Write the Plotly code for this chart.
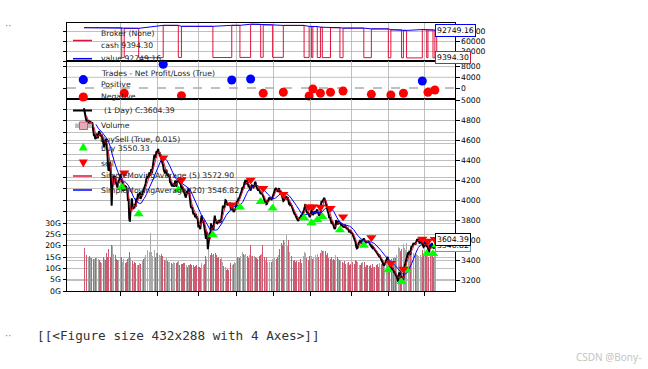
import plotly.graph_objects as go
import pandas as pd

# ---------------- data (daily bars) ----------------
close_2022_01 = [4918, 4873, 4820, 4818, 4791, 4785, 4726, 4801, 4777, 4756, 4790, 4772, 4750, 4779, 4741, 4700, 4640, 4655, 4610]
close_2022_02 = [4620, 4653, 4664, 4617, 4652, 4688, 4671, 4652, 4635, 4655, 4602, 4597, 4560, 4531, 4598, 4581]
close_2022_03 = [4614, 4526, 4497, 4374, 4293, 4302, 4379, 4355, 4176, 3942, 4115, 4239, 4245, 4213, 4242, 4194, 4169, 4160, 4125, 4166, 4180, 4204, 4222]
close_2022_04 = [4262, 4231, 4180, 4192, 4090, 4127, 4095, 4143, 4140, 4133, 4108, 4087, 3990, 4010, 3815, 3784, 3897, 3922, 4016]
close_2022_05 = [3975, 3908, 3928, 3916, 3962, 3930, 4013, 4006, 4020, 4063, 4017, 4062, 4077, 4010, 4028, 4033, 4067, 4092, 4091]
close_2022_06 = [4129, 4146, 4163, 4207, 4219, 4239, 4218, 4238, 4275, 4242, 4296, 4309, 4266, 4309, 4375, 4390, 4453, 4438, 4421, 4480, 4485]
close_2022_07 = [4476, 4511, 4460, 4478, 4440, 4452, 4410, 4392, 4376, 4341, 4298, 4285, 4267, 4290, 4302, 4267, 4238, 4260, 4231, 4245, 4170]
close_2022_08 = [4180, 4150, 4143, 4152, 4155, 4134, 4150, 4191, 4185, 4130, 4192, 4179, 4197, 4206, 4183, 4167, 4152, 4104, 4134, 4124, 4108, 4091, 4078]
close_2022_09 = [4043, 4024, 4066, 4091, 4063, 4116, 4098, 3996, 3985, 3932, 3918, 3932, 3903, 3856, 3869, 3855, 3827, 3861, 3817, 3823, 3804]
close_2022_10 = [3727, 3747, 3726, 3707, 3794, 3845, 3806, 3775, 3796, 3743, 3736, 3631, 3612, 3683, 3642, 3508]
close_2022_11 = [3579, 3651, 3675, 3633, 3767, 3728, 3745, 3721, 3700, 3788, 3845, 3793, 3804, 3770, 3766, 3780, 3770, 3800, 3790, 3775, 3788, 3853]
close_2022_12 = [3870, 3945, 3923, 3925, 3956, 3998, 3994, 3964, 3954, 3958, 3955, 3960, 3965, 3930, 3900, 3915, 3920, 3905, 3880, 3890, 3900, 3915]
close_2023_01 = [3940, 3990, 3980, 4003, 4021, 4014, 4049, 4059, 4073, 4109, 4124, 4127, 4125, 4170, 4181, 4201, 4156]
close_2023_02 = [4200, 4181, 4143, 4126, 4143, 4120, 4093, 4130, 4147, 4144, 4120, 4135, 4140, 4180, 4173, 4136, 4120, 4098, 4095, 4113]
close_2023_03 = [4090, 4080, 4060, 4075, 4070, 4055, 4040, 4020, 4000, 3973, 3986, 3958, 3962, 3991, 3990, 4015, 4024, 4005, 4021, 4000, 4010, 4030, 4050]
close_2023_04 = [4075, 4090, 4110, 4115, 4105, 4100, 4082, 4110, 4117, 4095, 4076, 4090, 4065, 4060, 4010, 3990, 3995, 4005, 4029]
close_2023_05 = [4020, 4040, 4005, 4028, 3995, 3965, 3970, 3950, 3955, 3945, 3920, 3905, 3880, 3872, 3860, 3855, 3835, 3820, 3798, 3798]
close_2023_06 = [3790, 3825, 3830, 3820, 3840, 3835, 3850, 3858, 3890, 3905, 3930, 3960, 3900, 3885, 3870, 3880, 3855, 3845, 3828, 3842]
close_2023_07 = [3880, 3905, 3870, 3850, 3865, 3885, 3860, 3880, 3875, 3890, 3905, 3880, 3860, 3840, 3865, 3845, 3960, 3990, 3980, 3995, 4014]
close_2023_08 = [4020, 4005, 3975, 3940, 3915, 3900, 3880, 3860, 3820, 3830, 3795, 3775, 3760, 3785, 3750, 3745, 3720, 3710, 3735, 3800, 3775, 3755, 3765]
close_2023_09 = [3790, 3780, 3760, 3770, 3750, 3755, 3745, 3730, 3740, 3725, 3750, 3735, 3715, 3710, 3725, 3705, 3690, 3675, 3700, 3690]
close_2023_10 = [3665, 3680, 3660, 3645, 3620, 3610, 3590, 3575, 3530, 3515, 3520, 3560, 3570, 3580, 3590, 3580, 3573]
close_2023_11 = [3590, 3600, 3605, 3615, 3600, 3590, 3575, 3570, 3585, 3575, 3590, 3580, 3560, 3555, 3545, 3535, 3540, 3520, 3525, 3510, 3505, 3496]
close_2023_12 = [3490, 3480, 3470, 3460, 3450, 3440, 3445, 3430, 3420, 3400, 3390, 3380, 3370, 3345, 3355, 3370, 3385, 3400, 3415, 3431]
close_2024_01 = [3386, 3365, 3352, 3340, 3329, 3310, 3302, 3320, 3290, 3275, 3285, 3260, 3240, 3250, 3228, 3195, 3200, 3265, 3275, 3255, 3245, 3225]
close_2024_02 = [3208, 3190, 3205, 3330, 3345, 3365, 3395, 3410, 3430, 3465, 3475, 3450, 3490, 3450, 3516]
close_2024_03 = [3540, 3530, 3555, 3570, 3555, 3570, 3555, 3580, 3600, 3610, 3595, 3600, 3580, 3565, 3585, 3600, 3605, 3560, 3545, 3530, 3537]
close_2024_04 = [3586, 3570, 3568, 3530, 3545, 3520, 3505, 3475, 3555, 3515, 3540, 3570, 3548, 3530, 3515, 3525, 3535, 3590, 3610, 3604.39]

# volume in billions (G)
vol_2022_01 = [18.2, 19.1, 17.5, 16.8, 15.9, 14.8, 16.2, 15.1, 14.3, 15.6, 14.9, 13.8, 14.7, 16.1, 15.3, 14.2, 15.8, 13.9, 14.6]
vol_2022_02 = [13.5, 14.8, 13.2, 12.9, 14.1, 15.3, 13.6, 12.8, 13.9, 12.4, 13.7, 14.5, 15.2, 13.1, 14.3, 13.8]
vol_2022_03 = [15.6, 16.8, 15.2, 17.9, 18.6, 16.3, 15.8, 14.9, 17.2, 20.4, 19.8, 18.1, 16.5, 15.3, 14.6, 15.9, 13.8, 14.2, 13.5, 12.9, 13.7, 14.4, 13.1]
vol_2022_04 = [14.8, 13.9, 15.2, 12.8, 13.6, 14.1, 12.9, 13.3, 12.4, 13.8, 12.6, 14.2, 15.9, 14.7, 17.4, 16.8, 15.1, 14.3, 15.6]
vol_2022_05 = [13.2, 12.4, 11.8, 12.6, 11.9, 12.3, 13.1, 12.2, 11.6, 12.8, 11.4, 12.5, 12.9, 12.1, 11.7, 12.6, 13.4, 12.8, 13.9]
vol_2022_06 = [15.2, 16.4, 15.8, 17.1, 16.3, 18.2, 15.6, 16.9, 17.4, 18.8, 25.8, 17.3, 16.1, 15.4, 17.8, 16.6, 18.1, 15.9, 14.8, 16.7, 17.2]
vol_2022_07 = [16.8, 17.5, 15.4, 15.9, 14.8, 15.6, 16.2, 14.9, 15.3, 16.1, 14.2, 13.8, 13.1, 13.6, 14.4, 12.9, 13.3, 12.8, 13.7, 12.6, 13.9]
vol_2022_08 = [13.1, 12.4, 12.8, 11.9, 12.6, 13.4, 12.2, 11.8, 12.9, 12.3, 11.6, 12.7, 13.2, 12.1, 11.5, 12.4, 12.8, 11.9, 12.3, 11.7, 12.5, 11.8, 12.2]
vol_2022_09 = [11.6, 12.1, 11.4, 11.9, 10.8, 11.5, 12.2, 11.3, 11.8, 10.9, 11.6, 11.2, 10.7, 11.4, 11.9, 10.6, 11.1, 10.8, 11.3, 10.5, 10.9]
vol_2022_10 = [10.4, 11.2, 10.6, 10.1, 11.5, 12.3, 10.9, 10.7, 11.3, 10.5, 11.8, 15.6, 16.9, 14.2, 15.1, 17.3]
vol_2022_11 = [18.9, 17.6, 16.2, 15.8, 18.4, 16.9, 15.7, 14.8, 16.3, 17.5, 19.5, 16.8, 15.2, 15.9, 14.6, 13.8, 14.9, 13.5, 12.7, 13.9, 14.4, 15.1]
vol_2022_12 = [12.8, 11.5, 10.9, 10.2, 9.8, 10.5, 9.4, 9.1, 9.8, 9.6, 9.2, 9.9, 11.6, 12.3, 11.8, 12.5, 11.4, 12.1, 11.7, 12.6, 11.3, 12.2]
vol_2023_01 = [14.2, 15.6, 14.8, 16.3, 15.1, 14.6, 16.9, 15.4, 14.9, 16.2, 17.3, 21.0, 16.5, 15.8, 14.7, 16.4, 17.1]
vol_2023_02 = [16.8, 15.3, 15.9, 14.6, 15.7, 16.2, 20.1, 15.4, 14.8, 15.6, 16.1, 14.9, 15.5, 16.7, 15.2, 14.6, 15.8, 14.3, 15.1, 14.7]
vol_2023_03 = [15.3, 14.8, 15.9, 16.4, 15.1, 20.2, 16.3, 14.7, 15.2, 14.1, 13.6, 14.8, 13.2, 12.9, 14.3, 13.7, 12.6, 13.9, 14.5, 12.8, 13.4, 14.1, 13.3]
vol_2023_04 = [13.8, 14.6, 12.9, 15.2, 14.3, 13.5, 14.9, 15.7, 16.8, 18.4, 17.6, 19.3, 21.2, 18.7, 20.5, 22.4, 19.8, 21.6, 23.1]
vol_2023_05 = [27.8, 24.6, 21.3, 19.7, 22.5, 18.4, 17.2, 15.9, 14.6, 15.3, 13.8, 14.5, 13.2, 14.9, 13.6, 12.8, 14.1, 13.4, 12.7, 13.9]
vol_2023_06 = [12.6, 13.5, 12.9, 14.2, 13.1, 12.4, 13.8, 14.6, 15.3, 16.2, 17.4, 16.8, 15.1, 14.7, 15.9, 14.3, 13.8, 14.9, 15.6, 14.2]
vol_2023_07 = [14.8, 15.6, 14.1, 16.3, 15.2, 14.7, 13.9, 15.8, 14.5, 15.1, 16.4, 15.7, 14.9, 17.2, 19.6, 16.8, 21.8, 18.3, 17.5, 16.9, 17.8]
vol_2023_08 = [18.4, 22.1, 17.6, 16.3, 15.8, 16.9, 15.2, 14.7, 16.1, 15.5, 14.3, 15.7, 14.9, 13.8, 15.4, 14.2, 13.6, 14.8, 15.9, 20.3, 16.7, 15.2, 14.4]
vol_2023_09 = [14.1, 13.5, 12.8, 13.6, 12.4, 13.2, 12.7, 11.9, 12.5, 13.1, 12.2, 11.8, 12.6, 11.4, 12.3, 11.7, 12.9, 11.5, 12.1, 11.8]
vol_2023_10 = [12.4, 11.8, 12.6, 11.3, 12.1, 11.7, 12.9, 13.6, 13.2, 12.4, 12.8, 11.9, 12.5, 11.6, 12.3, 11.4, 12.2]
vol_2023_11 = [11.8, 12.6, 12.2, 11.5, 12.9, 11.3, 10.8, 11.6, 10.9, 11.4, 12.1, 10.6, 11.2, 10.7, 11.5, 10.3, 10.9, 11.7, 10.4, 11.1, 10.6, 10.2]
vol_2023_12 = [10.8, 11.4, 10.5, 11.9, 10.7, 11.2, 12.3, 11.6, 10.9, 12.1, 11.5, 12.8, 11.3, 12.4, 11.8, 12.9, 11.6, 12.2, 13.1, 12.5]
vol_2024_01 = [12.8, 13.5, 12.4, 13.9, 12.7, 14.2, 13.3, 12.9, 14.6, 13.8, 15.1, 14.4, 16.8, 15.7, 18.2, 17.4, 19.6, 21.3, 18.8, 17.6, 19.2, 18.5]
vol_2024_02 = [19.4, 21.9, 20.6, 20.8, 19.1, 18.3, 17.2, 21.0, 19.5, 18.6, 17.9, 18.8, 16.9, 17.5, 18.2]
vol_2024_03 = [17.1, 16.4, 15.8, 16.9, 17.6, 15.3, 16.2, 17.8, 16.5, 15.9, 16.8, 15.4, 16.1, 17.3, 15.7, 16.6, 15.2, 17.9, 16.3, 15.6, 16.4]
vol_2024_04 = [16.7, 15.8, 16.3, 15.4, 16.9, 15.1, 14.8, 15.6, 17.8, 16.2, 15.5, 16.6, 15.9, 15.3, 14.9, 15.7, 16.4, 17.2, 17.9, 16.8]

close = (close_2022_01 + close_2022_02 + close_2022_03 + close_2022_04 + close_2022_05 + close_2022_06 +
         close_2022_07 + close_2022_08 + close_2022_09 + close_2022_10 + close_2022_11 + close_2022_12 +
         close_2023_01 + close_2023_02 + close_2023_03 + close_2023_04 + close_2023_05 + close_2023_06 +
         close_2023_07 + close_2023_08 + close_2023_09 + close_2023_10 + close_2023_11 + close_2023_12 +
         close_2024_01 + close_2024_02 + close_2024_03 + close_2024_04)
volume_g = (vol_2022_01 + vol_2022_02 + vol_2022_03 + vol_2022_04 + vol_2022_05 + vol_2022_06 +
            vol_2022_07 + vol_2022_08 + vol_2022_09 + vol_2022_10 + vol_2022_11 + vol_2022_12 +
            vol_2023_01 + vol_2023_02 + vol_2023_03 + vol_2023_04 + vol_2023_05 + vol_2023_06 +
            vol_2023_07 + vol_2023_08 + vol_2023_09 + vol_2023_10 + vol_2023_11 + vol_2023_12 +
            vol_2024_01 + vol_2024_02 + vol_2024_03 + vol_2024_04)
bars = list(range(len(close)))

quarter_start_bars = [58, 117, 182, 242, 302, 361, 425, 484, 542]

buy_bars = [60, 87, 150, 205, 248, 281, 300, 350, 362, 371, 379, 407, 445, 484, 505, 513, 545, 555, 561]
buy_marks = [4127, 3860, 4100, 3650, 3927, 3983, 3917, 3820, 3770, 3800, 3833, 3700, 3545, 3300, 3183, 3300, 3463, 3463, 3550.33]
sell_bars = [64, 126, 155, 235, 265, 285, 317, 358, 364, 376, 392, 412, 457, 488, 508, 538, 547, 558]
sell_marks = [4272, 4422, 4200, 3953, 4200, 4117, 4057, 3933, 3933, 3930, 3917, 3833, 3625, 3367, 3310, 3610, 3590, 3607]
trade_pnl = [-1980, 8860, -2880, 2990, 3360, -1980, -1600, -3000, -370, -1980, -1600, -1120, -2360, -2620, -1980, 2620, -1600, -750]

# broker: value when flat after each trade, cash left while in the market
flat_value = [98020, 106880, 104000, 106990, 110350, 108370, 106770, 103770, 103400, 101420, 99820, 98700, 96340, 93720, 91740, 94360, 93010, 92760]
cash_in_market = [10050, 9870, 10720, 10450, 10760, 11080, 10890, 10750, 10420, 10390, 10180, 10020, 9930, 9680, 9420, 9250, 9500, 9310, 9394.30]
start_cash = 100000
last_value = 92749.16

sma_fast_n = 5
sma_slow_n = 20

# ---------------- derived series ----------------
s = pd.Series(close)
sma_fast = s.rolling(sma_fast_n).mean()
sma_slow = s.rolling(sma_slow_n).mean()
vol_colors = ['#aaaaaa' if (i == 0 or close[i] >= close[i - 1]) else '#cc5a70' for i in bars]

cash_x, cash_y = [0], [start_cash]
val_x, val_y = [0], [start_cash]
prev_val = start_cash
for k, b in enumerate(buy_bars):
    cash_x.append(b); cash_y.append(cash_in_market[k])
    val_x.append(b); val_y.append(prev_val)
    if k < len(sell_bars):
        cash_x.append(sell_bars[k]); cash_y.append(flat_value[k])
        val_x.append(sell_bars[k]); val_y.append(flat_value[k])
        prev_val = flat_value[k]
val_x.append(bars[-1]); val_y.append(last_value)

pos_x = [sell_bars[i] for i in range(len(trade_pnl)) if trade_pnl[i] > 0]
pos_y = [p for p in trade_pnl if p > 0]
neg_x = [sell_bars[i] for i in range(len(trade_pnl)) if trade_pnl[i] <= 0]
neg_y = [p for p in trade_pnl if p <= 0]

# ---------------- geometry ----------------
W, H = 648, 369
PL, PR, PT, PB = 67, 455, 23, 291
def fx(px): return (px - PL) / (PR - PL)
def fy(py): return (PB - py) / (PB - PT)

FONT = "DejaVu Sans"
FS = 7.7
GRID = '#b0b0b0'

fig = go.Figure()
fig.add_trace(go.Scatter(x=cash_x, y=cash_y, mode='lines', line=dict(color='crimson', width=1, shape='hv'),
                         xaxis='x', yaxis='y', showlegend=False))
fig.add_trace(go.Scatter(x=val_x, y=val_y, mode='lines', line=dict(color='blue', width=1),
                         xaxis='x', yaxis='y', showlegend=False))
fig.add_trace(go.Scatter(x=pos_x, y=pos_y, mode='markers', marker=dict(color='blue', size=9),
                         xaxis='x2', yaxis='y2', showlegend=False, cliponaxis=False))
fig.add_trace(go.Scatter(x=neg_x, y=neg_y, mode='markers', marker=dict(color='red', size=9),
                         xaxis='x2', yaxis='y2', showlegend=False, cliponaxis=False))
fig.add_trace(go.Bar(x=bars, y=[v * 1e9 for v in volume_g], marker=dict(color=vol_colors, line=dict(width=0)),
                     width=0.8, xaxis='x3', yaxis='y3', showlegend=False))
fig.add_trace(go.Scatter(x=bars, y=close, mode='lines', line=dict(color='black', width=2),
                         xaxis='x3', yaxis='y4', showlegend=False))
fig.add_trace(go.Scatter(x=bars, y=sma_fast, mode='lines', line=dict(color='crimson', width=1),
                         xaxis='x3', yaxis='y4', showlegend=False))
fig.add_trace(go.Scatter(x=bars, y=sma_slow, mode='lines', line=dict(color='blue', width=1),
                         xaxis='x3', yaxis='y4', showlegend=False))
fig.add_trace(go.Scatter(x=buy_bars, y=buy_marks, mode='markers',
                         marker=dict(symbol='triangle-up', color='#00ff00', size=9),
                         xaxis='x3', yaxis='y4', showlegend=False))
fig.add_trace(go.Scatter(x=sell_bars, y=sell_marks, mode='markers',
                         marker=dict(symbol='triangle-down', color='#ff0000', size=9),
                         xaxis='x3', yaxis='y4', showlegend=False))

tickfont = dict(family=FONT, size=FS, color='black')
base_x = dict(range=[-27, 590], tickvals=quarter_start_bars, showticklabels=False, showgrid=True,
              gridcolor=GRID, gridwidth=0.8, showline=True, linecolor='black', linewidth=1, mirror=True,
              zeroline=False)
ycommon = dict(showline=True, linecolor='black', linewidth=1, zeroline=False, tickfont=tickfont,
               ticks='outside', ticklen=3.5, tickcolor='black', tickwidth=1, gridcolor=GRID, gridwidth=0.8)

vol_ticks = [i * 5e9 for i in range(17)]
vol_text = [f"{i * 5}G" if i * 5 <= 30 else "" for i in range(17)]
broker_ticks = [0, 30000, 60000, 90000]
trade_ticks = [0, 4000, 8000]
price_ticks = list(range(3200, 5001, 200))

fig.update_layout(
    width=W, height=H, margin=dict(l=PL, r=W - PR, t=PT, b=H - PB),
    paper_bgcolor='white', plot_bgcolor='white', font=dict(family=FONT, size=FS, color='black'),
    showlegend=False, bargap=0, hovermode=False,
    xaxis=dict(base_x, anchor='y', domain=[0, 1], ticks=''),
    xaxis2=dict(base_x, anchor='y2', matches='x', ticks=''),
    xaxis3=dict(base_x, anchor='y3', matches='x', ticks='outside', ticklen=3.5, tickcolor='black'),
    yaxis=dict(ycommon, domain=[fy(61), 1], anchor='x', side='right', range=[0, 114000],
               tickvals=broker_ticks, ticktext=[str(v) for v in broker_ticks], mirror='ticks', showgrid=True),
    yaxis2=dict(ycommon, domain=[fy(99), fy(61)], anchor='x2', side='right', range=[-4110, 10090],
                tickvals=trade_ticks, ticktext=[str(v) for v in trade_ticks], mirror='ticks', showgrid=False),
    yaxis3=dict(ycommon, domain=[0, fy(99)], anchor='x3', side='left', range=[0, 84.7e9],
                tickvals=vol_ticks, ticktext=vol_text, showgrid=True),
    yaxis4=dict(ycommon, overlaying='y3', anchor='x3', side='right', range=[3090, 5010],
                tickvals=price_ticks, ticktext=[str(v) for v in price_ticks], showgrid=True),
)

shapes = []
for v in [4000, 8000]:
    shapes.append(dict(type='line', xref='x2 domain', yref='y2', x0=0, x1=1, y0=v, y1=v,
                       line=dict(color=GRID, width=0.8), layer='below'))
shapes.append(dict(type='line', xref='x2 domain', yref='y2', x0=0, x1=1, y0=0, y1=0,
                   line=dict(color='#808080', width=1, dash='dash'), layer='below'))

def hline(x0, x1, y, color, width):
    shapes.append(dict(type='line', xref='paper', yref='paper', x0=fx(x0), x1=fx(x1), y0=fy(y), y1=fy(y),
                       line=dict(color=color, width=width)))

def circle(cx, cy, r, color):
    shapes.append(dict(type='circle', xref='paper', yref='paper', x0=fx(cx - r), x1=fx(cx + r),
                       y0=fy(cy + r), y1=fy(cy - r), fillcolor=color, line=dict(width=0)))

def tri(cx, cy, up, color):
    hw, hh = 4.5, 4
    if up:
        pts = [(cx - hw, cy + hh), (cx + hw, cy + hh), (cx, cy - hh)]
    else:
        pts = [(cx - hw, cy - hh), (cx + hw, cy - hh), (cx, cy + hh)]
    path = "M " + " L ".join(f"{fx(a):.5f},{fy(b):.5f}" for a, b in pts) + " Z"
    shapes.append(dict(type='path', xref='paper', yref='paper', path=path, fillcolor=color, line=dict(width=0)))

hline(73, 92, 40.5, 'crimson', 1.5)
hline(73, 92, 58.7, 'blue', 1.5)
circle(83.3, 79.7, 4.6, 'blue')
circle(83.3, 97.0, 4.6, 'red')
hline(73, 92, 110.5, 'black', 2)
shapes.append(dict(type='rect', xref='paper', yref='paper', x0=fx(75), x1=fx(92), y0=fy(128), y1=fy(123.5),
                   fillcolor='#bbbbbb', line=dict(width=0)))
shapes.append(dict(type='rect', xref='paper', yref='paper', x0=fx(79.5), x1=fx(87.5), y0=fy(129.5), y1=fy(122),
                   fillcolor='#e8aab6', line=dict(color='#cc5a70', width=1)))
tri(83.3, 146.5, True, '#00ff00')
tri(83.3, 163.5, False, '#ff0000')
hline(73, 92, 176, 'crimson', 1.5)
hline(73, 92, 190, 'blue', 1.5)
fig.update_layout(shapes=shapes)

ann = []
def label(text, x, y, size=FS, color='#222222', family=FONT, xanchor='left'):
    ann.append(dict(text=text, xref='paper', yref='paper', x=fx(x), y=fy(y), xanchor=xanchor, yanchor='middle',
                    showarrow=False, font=dict(family=family, size=size, color=color)))

label("Broker (None)", 99, 34)
label("cash 9394.30", 99, 45.5)
label("value 92749.16", 99, 58)
label("Trades - Net Profit/Loss (True)", 99, 73)
label("Positive", 99, 84.5)
label("Negative", 99, 96.5)
label("(1 Day) C:3604.39", 101.5, 111)
label("Volume", 99, 125.7)
label("BuySell (True, 0.015)", 98, 139)
label("buy 3550.33", 99, 148.5)
label("sell", 99, 163.3)
label("SimpleMovingAverage (5) 3572.90", 99, 176)
label("SimpleMovingAverage (20) 3546.82", 99, 190)

def tag(text, y, yref, color):
    ann.append(dict(text=text, xref='paper', x=fx(435), xanchor='left', yref=yref, y=y, yanchor='middle',
                    showarrow=False, font=dict(family=FONT, size=FS, color='black'),
                    bordercolor=color, borderwidth=1, borderpad=1, bgcolor='white'))

tag("92749.16", last_value, 'y', 'blue')
tag("9394.30", cash_in_market[-1], 'y', 'crimson')
tag(f"{sma_fast.iloc[-1]:.2f}", sma_fast.iloc[-1], 'y4', 'crimson')
tag(f"{sma_slow.iloc[-1]:.2f}", sma_slow.iloc[-1], 'y4', '#5b9bd5')
tag(f"{close[-1]:.2f}", close[-1], 'y4', 'black')

label("··", 3, 25, size=10, color='#888888')
label("··", 3, 335, size=10, color='#888888')
label("[[<Figure size 432x288 with 4 Axes>]]", 35, 335, size=12.7, color='#333333', family='DejaVu Sans Mono')
label("CSDN @Bony-", 643, 357, size=10, color='#c4c4c4', family='Noto Sans', xanchor='right')

fig.update_layout(annotations=ann)
fig.write_html("out.html", config={'displayModeBar': False, 'staticPlot': True},
               post_script="document.body.style.margin='0';document.body.style.overflow='hidden';")
